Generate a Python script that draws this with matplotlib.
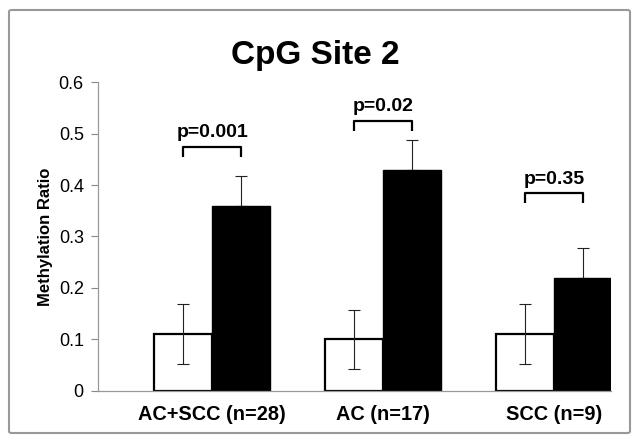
import matplotlib
matplotlib.use("Agg")
import matplotlib.pyplot as plt
from matplotlib.patches import FancyBboxPatch

plt.rcParams['font.family'] = ['Liberation Sans', 'DejaVu Sans']

groups = ['AC+SCC (n=28)', 'AC (n=17)', 'SCC (n=9)']
normal_vals = [0.11, 0.10, 0.11]
normal_err = [0.058, 0.058, 0.058]
tumor_vals = [0.36, 0.43, 0.22]
tumor_err = [0.058, 0.058, 0.058]
p_labels = ['p=0.001', 'p=0.02', 'p=0.35']
bracket_y = [0.474, 0.524, 0.384]

fig = plt.figure(figsize=(6.41, 4.44), dpi=100)
ax = fig.add_axes([0.1524, 0.1194, 0.8006, 0.6959])

w = 0.338
x_white = [i + 0.5 for i in range(len(groups))]
x_black = [x + w for x in x_white]

ax.bar(x_white, normal_vals, width=w, color='white', edgecolor='black', linewidth=1.6, zorder=2)
ax.bar(x_black, tumor_vals, width=w, color='black', edgecolor='black', linewidth=1.0, zorder=2)
ax.errorbar(x_white, normal_vals, yerr=normal_err, fmt='none', ecolor='#222222',
            elinewidth=0.8, capsize=4, capthick=0.8, zorder=3)
# lower half of the tumour error bars disappears into the black bar
ax.errorbar(x_black, tumor_vals, yerr=[[0] * len(tumor_err), tumor_err], fmt='none',
            ecolor='#222222', elinewidth=0.8, capsize=4, capthick=0.8, zorder=1)

# significance brackets
for xw, xb, yb, lab in zip(x_white, x_black, bracket_y, p_labels):
    ax.plot([xw, xw, xb, xb], [yb - 0.019, yb, yb, yb - 0.019], color='black',
            linewidth=1.6, solid_capstyle='butt', clip_on=False)
    ax.text((xw + xb) / 2, yb + 0.011, lab, ha='center', va='bottom',
            fontsize=14, fontweight='bold')

ax.set_xlim(0, 3.0)
ax.set_ylim(0, 0.6)
ax.set_yticks([0, 0.1, 0.2, 0.3, 0.4, 0.5, 0.6])
ax.set_yticklabels(['0', '0.1', '0.2', '0.3', '0.4', '0.5', '0.6'])
ax.set_xticks([x + w / 2 for x in x_white])
ax.set_xticklabels(groups, fontsize=14.3, fontweight='bold')
ax.tick_params(axis='x', length=0, pad=10)
ax.tick_params(axis='y', length=5, width=0.8, color='#888888', labelsize=13, pad=5)
for s in ['top', 'right']:
    ax.spines[s].set_visible(False)
for s in ['left', 'bottom']:
    ax.spines[s].set_color('#999999')
    ax.spines[s].set_linewidth(0.9)

ax.set_ylabel('Methylation Ratio', fontsize=12, fontweight='bold', labelpad=4)
fig.text(0.492, 0.876, 'CpG Site 2', ha='center', va='center', fontsize=24, fontweight='bold')

frame = FancyBboxPatch((9 / 641, 11 / 444), 621 / 641, 423 / 444,
                       boxstyle='round,pad=0,rounding_size=0.004', transform=fig.transFigure,
                       facecolor='none', edgecolor='#999999', linewidth=1.5)
fig.patches.append(frame)

fig.savefig('out.png', dpi=100)
